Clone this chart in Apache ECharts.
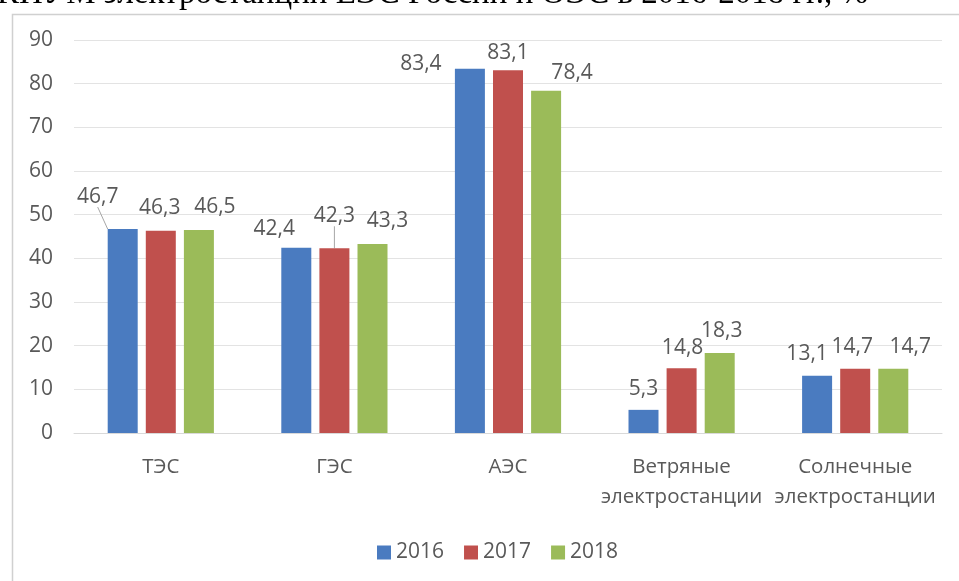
<!DOCTYPE html>
<html>
<head>
<meta charset="utf-8">
<script src="https://cdn.jsdelivr.net/npm/echarts@6/dist/echarts.min.js"></script>
<style>
  html, body { margin: 0; padding: 0; background: #fff; }
  #kium-chart { width: 959px; height: 581px; }
</style>
</head>
<body>
<div id="kium-chart"></div>
<script>
  // КИУМ по типам станций, %
  var categories = ['ТЭС', 'ГЭС', 'АЭС', 'Ветряные\nэлектростанции', 'Солнечные\nэлектростанции']
  var years = ['2016', '2017', '2018']
  var y2016 = [46.7, 42.4, 83.4, 5.3, 13.1]
  var y2017 = [46.3, 42.3, 83.1, 14.8, 14.7]
  var y2018 = [46.5, 43.3, 78.4, 18.3, 14.7]
  var yTicks = [0, 10, 20, 30, 40, 50, 60, 70, 80, 90]

  var colors = ['#4a7bc0', '#c0504d', '#9bbb59']
  var labelColor = '#595959'
  var fontFamily = '"Open Sans", "Noto Sans", sans-serif'

  // сдвиги подписей как в оригинале (как Excel их растащил) [серия][категория] -> [dx, dy]
  var nudge = [
    [[-25, -17], [-22, -3], [-49, 11], [0, -5], [-10, -6]],
    [[-1, -7], [0, -17], [0, -2], [1, -5], [-3, -6]],
    [[16, -7], [15, -7], [26, -2], [2, -7], [17, -6]]
  ]
  // подписи с выносной линией
  var withLine = { '0-0': true, '1-1': true }

  function buildSeries(idx, values) {
    return {
      name: years[idx],
      type: 'bar',
      barWidth: 30,
      barGap: '27%',
      itemStyle: { color: colors[idx] },
      label: {
        show: true,
        position: 'top',
        distance: 5,
        color: labelColor,
        fontSize: 21,
        fontFamily: fontFamily,
        formatter: function (p) { return String(p.value).replace('.', ',') }
      },
      labelLine: { show: false },
      data: values.map(function (v, i) {
        var item = { value: v }
        if (withLine[idx + '-' + i]) {
          item.labelLine = { show: true, lineStyle: { color: '#a6a6a6', width: 1 } }
        }
        return item
      })
    }
  }

  var chart = echarts.init(document.getElementById('kium-chart'))
  var option = {
    animation: false,
    color: colors,
    graphic: [
      {
        type: 'rect',
        left: 10, top: 12,
        shape: { width: 980, height: 600 },
        style: { fill: 'none', stroke: '#d0d0d0', lineWidth: 1.5 },
        silent: true
      },
      {
        type: 'text',
        left: -3, top: -22,
        style: {
          text: 'КИУМ электростанций ЕЭС России и ОЭС в 2016-2018 гг., %',
          font: '33px "Liberation Serif", serif',
          fill: '#000'
        },
        silent: true
      }
    ],
    grid: { left: 74, right: 17, top: 40, bottom: 148, containLabel: false },
    legend: {
      data: years,
      top: 537,
      left: 372,
      itemWidth: 14,
      itemHeight: 14,
      itemGap: 20,
      icon: 'rect',
      textStyle: { color: labelColor, fontSize: 21, fontFamily: fontFamily }
    },
    xAxis: {
      type: 'category',
      data: categories,
      axisLine: { lineStyle: { color: '#d9d9d9' } },
      axisTick: { show: false },
      axisLabel: { interval: 0, color: labelColor, fontSize: 20.5, lineHeight: 30, margin: 19, fontFamily: fontFamily }
    },
    yAxis: {
      type: 'value',
      min: yTicks[0],
      max: yTicks[yTicks.length - 1],
      interval: 10,
      axisLine: { show: false },
      axisTick: { show: false },
      splitLine: { lineStyle: { color: '#e3e3e3' } },
      axisLabel: { color: labelColor, fontSize: 21, margin: 21, fontFamily: fontFamily }
    },
    labelLayout: function (p) {
      var d = nudge[p.seriesIndex] && nudge[p.seriesIndex][p.dataIndex]
      if (!d) return {}
      return { dx: d[0], dy: d[1] }
    },
    series: [
      buildSeries(0, y2016),
      buildSeries(1, y2017),
      buildSeries(2, y2018)
    ]
  }
  chart.setOption(option)
</script>
</body>
</html>
